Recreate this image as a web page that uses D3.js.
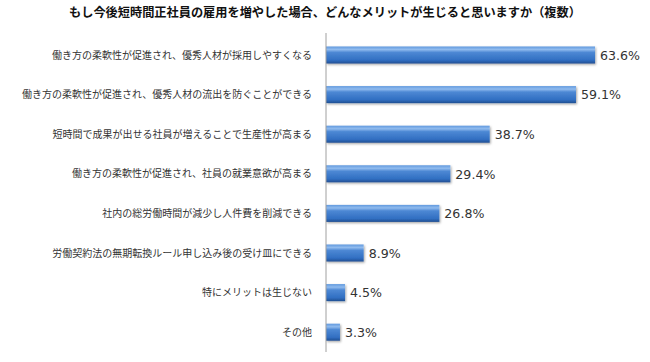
<!DOCTYPE html>
<html><head><meta charset="utf-8">
<script src="https://cdn.jsdelivr.net/npm/d3@7"></script>
<style>body{margin:0;background:#fff}svg{display:block}</style>
</head><body>
<svg id="c" width="650" height="362"></svg>
<script>
const title = "もし今後短時間正社員の雇用を増やした場合、どんなメリットが生じると思いますか（複数）";
const categories = [
  "働き方の柔軟性が促進され、優秀人材が採用しやすくなる",
  "働き方の柔軟性が促進され、優秀人材の流出を防ぐことができる",
  "短時間で成果が出せる社員が増えることで生産性が高まる",
  "働き方の柔軟性が促進され、社員の就業意欲が高まる",
  "社内の総労働時間が減少し人件費を削減できる",
  "労働契約法の無期転換ルール申し込み後の受け皿にできる",
  "特にメリットは生じない",
  "その他"
];
const values = [63.6, 59.1, 38.7, 29.4, 26.8, 8.9, 4.5, 3.3];

const svg = d3.select("#c");
const x0 = 326;
const x = d3.scaleLinear().domain([0, 100]).range([x0, x0 + 423]);
const y = d3.scaleBand().domain(categories).range([35.2, 352]).paddingInner(0.57).paddingOuter(0.285);

const defs = svg.append("defs");
const g = defs.append("linearGradient").attr("id","bg").attr("x1",0).attr("y1",0).attr("x2",0).attr("y2",1);
g.append("stop").attr("offset","0%").attr("stop-color","#6199de");
g.append("stop").attr("offset","18%").attr("stop-color","#90bbee");
g.append("stop").attr("offset","35%").attr("stop-color","#4d88d4");
g.append("stop").attr("offset","80%").attr("stop-color","#316fc2");
g.append("stop").attr("offset","100%").attr("stop-color","#214f92");
const f = defs.append("filter").attr("id","sh").attr("x","-10%").attr("y","-20%").attr("width","130%").attr("height","160%");
f.append("feDropShadow").attr("dx",1).attr("dy",1.2).attr("stdDeviation",0.9).attr("flood-color","#000").attr("flood-opacity",0.35);

svg.append("text").attr("x", 325).attr("y", 17).attr("text-anchor","middle")
  .attr("font-family","'Noto Sans CJK JP', sans-serif").attr("font-size", 12.2).attr("font-weight","bold")
  .attr("fill","#111").text(title);

const bars = svg.append("g");
bars.selectAll("rect").data(values).join("rect")
  .attr("x", x(0)).attr("y", (d,i) => y(categories[i]))
  .attr("width", d => x(d) - x(0)).attr("height", y.bandwidth())
  .attr("fill","url(#bg)").attr("filter","url(#sh)");

svg.append("line").attr("x1", x0).attr("x2", x0).attr("y1", 33).attr("y2", 352)
  .attr("stroke","#a0a0a0").attr("stroke-width",1);

svg.append("g").selectAll("text").data(categories).join("text")
  .attr("x", 312).attr("y", d => y(d) + y.bandwidth()/2 + 3.5)
  .attr("text-anchor","end").attr("font-family","'Noto Sans CJK JP', sans-serif")
  .attr("font-size", 10).attr("fill","#333").text(d => d);

svg.append("g").selectAll("text").data(values).join("text")
  .attr("x", d => x(d) + 5).attr("y", (d,i) => y(categories[i]) + y.bandwidth()/2 + 4.8)
  .attr("font-family","'DejaVu Sans', Verdana, sans-serif").attr("font-size", 12.6).attr("fill","#333")
  .text(d => d.toFixed(1) + "%");
</script>
</body></html>
